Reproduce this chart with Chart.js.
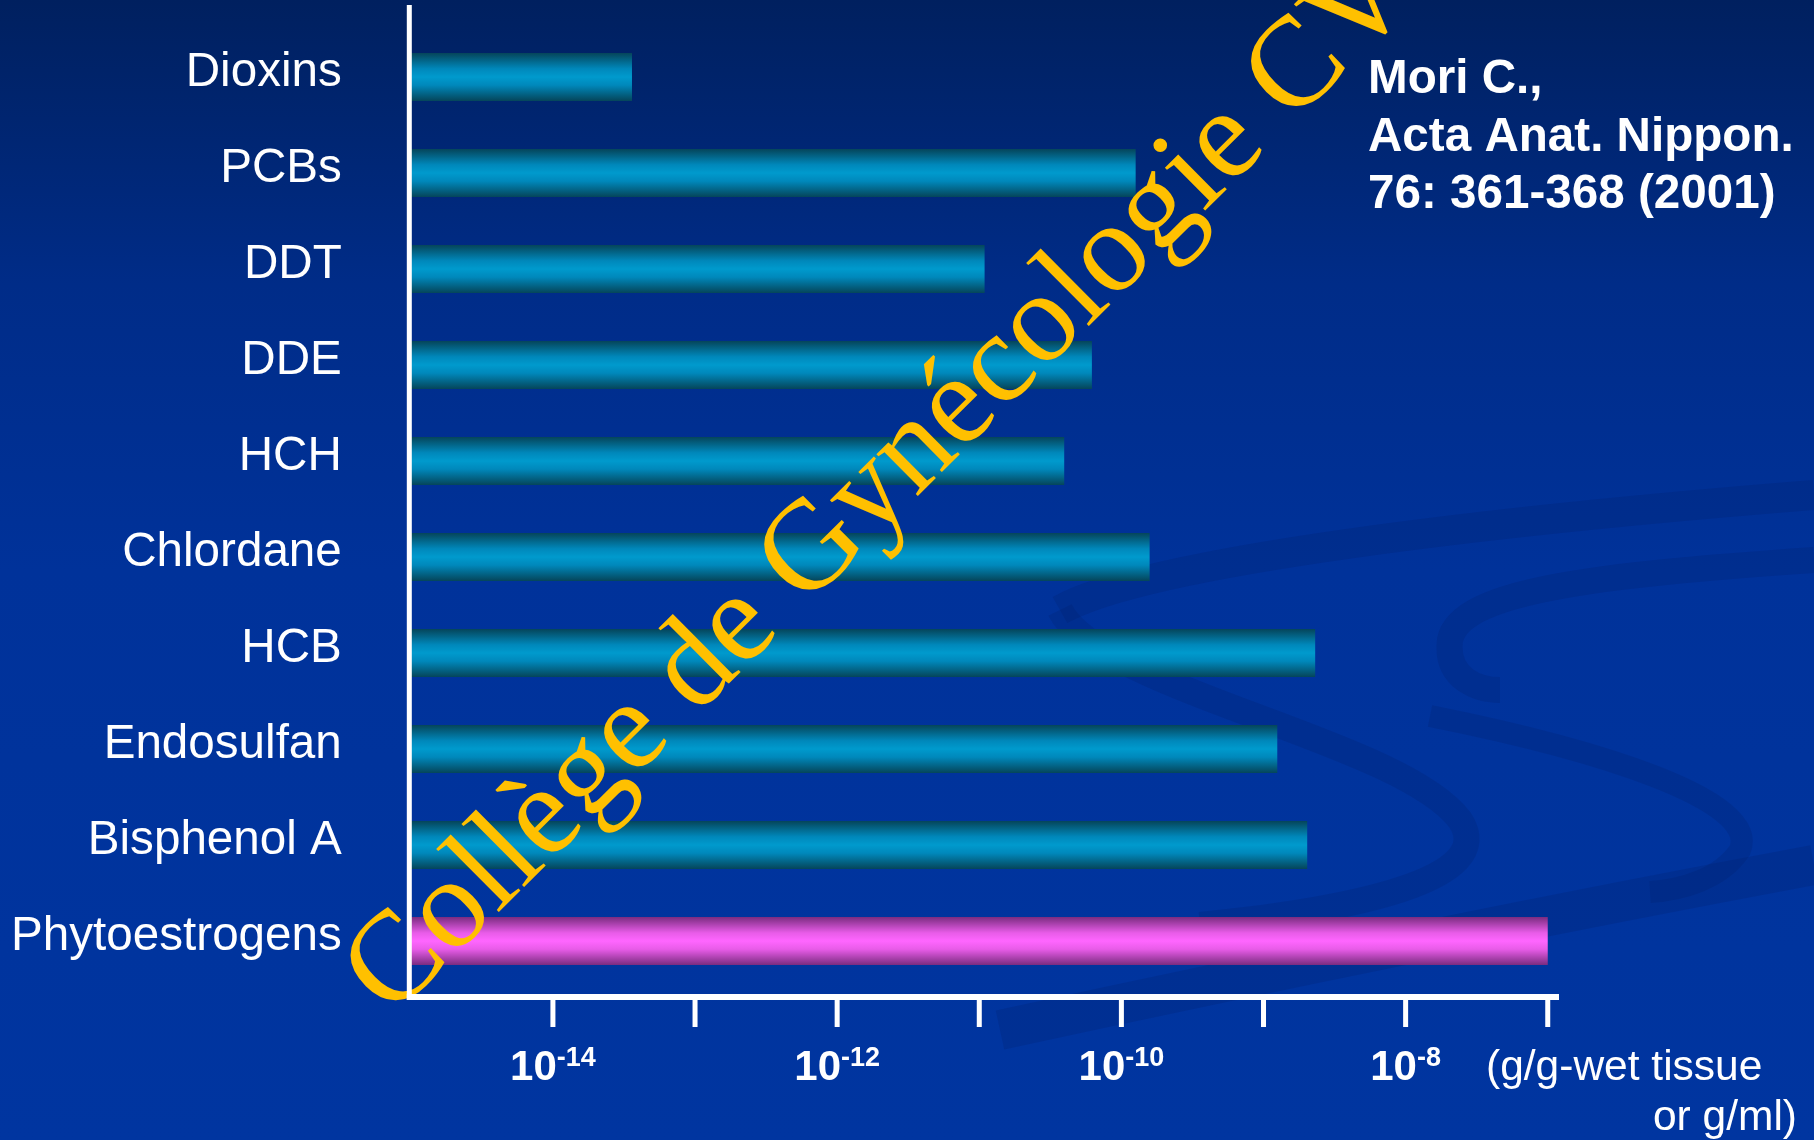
<!DOCTYPE html>
<html>
<head>
<meta charset="utf-8">
<title>Mori C. 2001 - concentrations</title>
<script src="https://cdn.jsdelivr.net/npm/chart.js@4.4.0/dist/chart.umd.min.js"></script>
<style>
  html, body { margin: 0; padding: 0; background: #00339c; overflow: hidden; }
  canvas { display: block; }
</style>
</head>
<body>
<canvas id="chart" width="1814" height="1140"></canvas>
<script>
// values (g/g-wet tissue or g/ml, log scale)
const categories = ['Dioxins', 'PCBs', 'DDT', 'DDE', 'HCH', 'Chlordane', 'HCB', 'Endosulfan', 'Bisphenol A', 'Phytoestrogens'];
const concentrations = [3.6e-14, 1.26e-10, 1.09e-11, 6.2e-11, 3.96e-11, 1.58e-10, 2.31e-9, 1.25e-9, 2.03e-9, 1.0e-7];
const barKinds = ['synthetic', 'synthetic', 'synthetic', 'synthetic', 'synthetic', 'synthetic', 'synthetic', 'synthetic', 'synthetic', 'natural'];
const decadeTicks = [1e-14, 1e-13, 1e-12, 1e-11, 1e-10, 1e-9, 1e-8, 1e-7];
const labelledExponents = ['-14', '-12', '-10', '-8'];
const citationLines = ['Mori C.,', 'Acta Anat. Nippon.', '76: 361-368 (2001)'];
const unitLines = ['(g/g-wet tissue', 'or g/ml)'];
const watermarkText = 'Collège de Gynécologie CVL';

const kindStops = {
    synthetic: ['#05455a', '#0088bb', '#009acd', '#0088bb', '#05455a'],
    natural: ['#7a2c80', '#e85ce8', '#ff66ff', '#e85ce8', '#7a2c80']
};

function barFill(context) {
    var chart = context.chart;
    var kind = barKinds[context.dataIndex] || 'synthetic';
    var stops = kindStops[kind];
    if (!chart.chartArea || context.dataIndex === undefined) return stops[2];
    var yScale = chart.scales.y;
    var yc = yScale.getPixelForValue(context.dataIndex);
    var half = (yScale.bottom - yScale.top) / categories.length * 0.5 / 2;
    var g = chart.ctx.createLinearGradient(0, yc - half, 0, yc + half);
    g.addColorStop(0, stops[0]);
    g.addColorStop(0.33, stops[1]);
    g.addColorStop(0.5, stops[2]);
    g.addColorStop(0.67, stops[3]);
    g.addColorStop(1, stops[4]);
    return g;
}

function ribbon(ctx, pts, width) {
    ctx.lineWidth = width;
    ctx.beginPath();
    ctx.moveTo(pts[0][0], pts[0][1]);
    for (var i = 1; i + 2 < pts.length; i += 3) {
        ctx.bezierCurveTo(pts[i][0], pts[i][1], pts[i+1][0], pts[i+1][1], pts[i+2][0], pts[i+2][1]);
    }
    ctx.stroke();
}

const backdrop = {
    id: 'backdrop',
    beforeDraw(chart) {
        var ctx = chart.ctx;
        var w = chart.width, h = chart.height;
        ctx.save();
        var bg = ctx.createLinearGradient(0, 0, 0, h);
        bg.addColorStop(0, '#00205f');
        bg.addColorStop(0.25, '#002c88');
        bg.addColorStop(0.5, '#00329a');
        bg.addColorStop(1, '#0035a0');
        ctx.fillStyle = bg;
        ctx.fillRect(0, 0, w, h);
        // faint swooshes of the slide template
        ctx.strokeStyle = 'rgba(0, 28, 100, 0.2)';
        ctx.lineCap = 'butt';
        ribbon(ctx, [[1814, 495], [1500, 520], [1150, 560], [1060, 610]], 30);
        ribbon(ctx, [[1060, 610], [1100, 690], [1400, 740], [1460, 820], [1500, 880], [1350, 910], [1200, 925]], 26);
        ribbon(ctx, [[1814, 560], [1600, 575], [1460, 590], [1450, 640], [1445, 680], [1480, 690], [1500, 690]], 26);
        ribbon(ctx, [[1430, 716], [1600, 750], [1760, 800], [1740, 850], [1720, 880], [1680, 890], [1650, 892]], 22);
        ribbon(ctx, [[1000, 1030], [1300, 965], [1600, 905], [1814, 865]], 40);
        ctx.restore();
    }
};

const overlay = {
    id: 'overlay',
    afterDraw(chart) {
        var ctx = chart.ctx;
        var x = chart.scales.x;
        var area = chart.chartArea;
        ctx.save();

        // watermark
        ctx.save();
        ctx.translate(391, 1019);
        ctx.rotate(-44.8 * Math.PI / 180);
        ctx.font = '128px "Liberation Serif", "DejaVu Serif", serif';
        ctx.fillStyle = '#ffc000';
        ctx.textAlign = 'left';
        ctx.textBaseline = 'alphabetic';
        ctx.fillText(watermarkText, 0, 0);
        ctx.restore();

        // axes
        var axisY = area.bottom + 8;
        ctx.fillStyle = '#ffffff';
        ctx.fillRect(area.left - 4, 5, 5, axisY - 2);
        ctx.fillRect(area.left - 4, axisY - 3, area.right - area.left + 4, 6);
        decadeTicks.forEach(function (v) {
            var px = x.getPixelForValue(v);
            ctx.fillRect(px - 2.5, axisY, 5, 30);
        });

        // decade labels 10^n
        ctx.textBaseline = 'alphabetic';
        ctx.textAlign = 'left';
        labelledExponents.forEach(function (e) {
            var px = x.getPixelForValue(Math.pow(10, Number(e)));
            ctx.font = 'bold 42px "Liberation Sans", Arial, sans-serif';
            var wBase = ctx.measureText('10').width;
            ctx.font = 'bold 27px "Liberation Sans", Arial, sans-serif';
            var wExp = ctx.measureText(e).width;
            var start = px - (wBase + wExp) / 2;
            ctx.font = 'bold 42px "Liberation Sans", Arial, sans-serif';
            ctx.fillText('10', start, 1080);
            ctx.font = 'bold 27px "Liberation Sans", Arial, sans-serif';
            ctx.fillText(e, start + wBase, 1066);
        });

        // units
        ctx.font = '42.5px "Liberation Sans", Arial, sans-serif';
        ctx.fillText(unitLines[0], 1486, 1080);
        ctx.textAlign = 'right';
        ctx.fillText(unitLines[1], 1797, 1130);

        // citation
        ctx.textAlign = 'left';
        ctx.font = 'bold 47.6px "Liberation Sans", Arial, sans-serif';
        citationLines.forEach(function (line, i) {
            ctx.fillText(line, 1368, 93 + i * 57.5);
        });
        ctx.restore();
    }
};

new Chart(document.getElementById('chart'), {
    type: 'bar',
    data: {
        labels: categories,
        datasets: [{
            data: concentrations,
            backgroundColor: barFill,
            borderWidth: 0,
            barPercentage: 0.5,
            categoryPercentage: 1.0
        }]
    },
    options: {
        indexAxis: 'y',
        responsive: false,
        animation: false,
        devicePixelRatio: 1,
        layout: { autoPadding: false, padding: { left: 0, right: 255, top: 29, bottom: 151 } },
        scales: {
            x: {
                type: 'logarithmic',
                min: 1e-15,
                max: 1.2e-7,
                bounds: 'data',
                display: false
            },
            y: {
                grid: { display: false, drawTicks: false },
                border: { display: false },
                ticks: {
                    color: '#ffffff',
                    padding: 69,
                    labelOffset: -4,
                    font: { family: '"Liberation Sans", Arial, sans-serif', size: 47.6 }
                },
                afterFit: function (scale) {
                    scale.width = 410.8;
                    scale.paddingTop = 0;
                    scale.paddingBottom = 0;
                }
            }
        },
        plugins: {
            legend: { display: false },
            tooltip: { enabled: false }
        }
    },
    plugins: [backdrop, overlay]
});
</script>
</body>
</html>
